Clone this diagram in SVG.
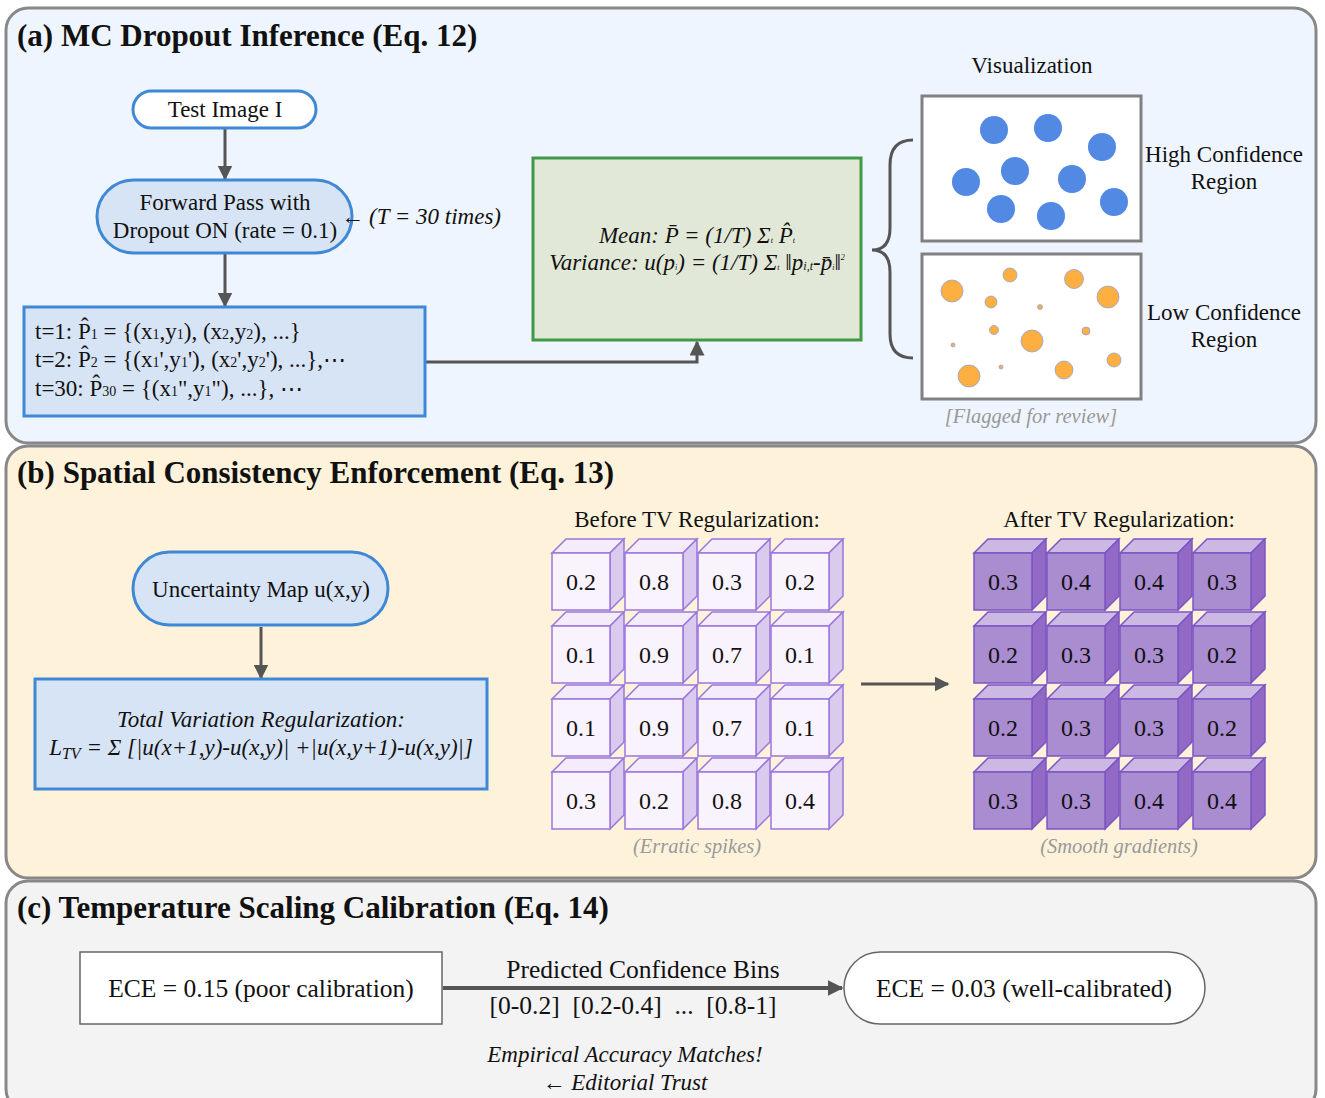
<svg xmlns="http://www.w3.org/2000/svg" width="1325" height="1098" viewBox="0 0 1325 1098">
<style>
text{font-family:"Liberation Serif","Times New Roman",serif;fill:#111}
.title{font-size:31px;font-weight:bold}
.t{font-size:23px}
.it{font-size:23px;font-style:italic}
.big{font-size:25.5px}
.note{font-size:20.5px;font-style:italic;fill:#999}
.mid{text-anchor:middle}
.node{fill:#D7E4F5;stroke:#3F88D6;stroke-width:3}
.sec{stroke:#888;stroke-width:3}
.conn{stroke:#555;stroke-width:3;fill:none}
.cv{font-size:24px;text-anchor:middle}
.blue{fill:#5189E3}
.or{fill:#FDAF41;stroke:#8FA3D8;stroke-width:0.8}
</style>
<defs>
<marker id="ah" viewBox="0 0 10 10" refX="9" refY="5" markerWidth="5" markerHeight="5" orient="auto" markerUnits="strokeWidth">
<path d="M0,0 L10,5 L0,10 z" fill="#555"/>
</marker>
<marker id="ahs" viewBox="0 0 10 10" refX="9" refY="5" markerWidth="4" markerHeight="4" orient="auto" markerUnits="strokeWidth">
<path d="M0,0 L10,5 L0,10 z" fill="#555"/>
</marker>
<g id="cubeB">
<path d="M0,0 L14,-14 L72,-14 L58,0 z" fill="#F4EBFB" stroke="#9A77DD" stroke-width="1.5"/>
<path d="M58,0 L72,-14 L72,43 L58,57 z" fill="#DACAEE" stroke="#9A77DD" stroke-width="1.5"/>
<rect x="0" y="0" width="58" height="57" fill="#F9F3FD" stroke="#9A77DD" stroke-width="1.5"/>
</g>
<g id="cubeA">
<path d="M0,0 L14,-14 L72,-14 L58,0 z" fill="#CBB8E3" stroke="#7C55C4" stroke-width="1.5"/>
<path d="M58,0 L72,-14 L72,43 L58,57 z" fill="#9369C6" stroke="#7C55C4" stroke-width="1.5"/>
<rect x="0" y="0" width="58" height="57" fill="#AA8CD0" stroke="#7C55C4" stroke-width="1.5"/>
</g>
</defs>

<!-- sections -->
<g id="sec-a">
<rect class="sec" x="6" y="8" width="1310" height="435" rx="22" fill="#EEF5FE"/>
<text class="title" x="17" y="46">(a) MC Dropout Inference (Eq. 12)</text>
</g>
<g id="sec-b">
<rect class="sec" x="6" y="446" width="1310" height="432" rx="22" fill="#FEF3DA"/>
<text class="title" x="17" y="483">(b) Spatial Consistency Enforcement (Eq. 13)</text>
</g>
<g id="sec-c">
<rect class="sec" x="6" y="881" width="1310" height="230" rx="22" fill="#F3F3F3"/>
<text class="title" x="17" y="918">(c) Temperature Scaling Calibration (Eq. 14)</text>
</g>

<!-- connectors -->
<g id="connectors">
<line class="conn" x1="225" y1="129" x2="225" y2="179" marker-end="url(#ah)"/>
<line class="conn" x1="225" y1="254" x2="225" y2="306" marker-end="url(#ah)"/>
<polyline class="conn" points="426,362 697,362 697,342" marker-end="url(#ah)"/>
<path d="M913,140 Q890,140 890,165 L890,228 Q890,250 872,250 Q890,250 890,272 L890,334 Q890,358 913,358" fill="none" stroke="#555" stroke-width="3"/>
<line class="conn" x1="261" y1="627" x2="261" y2="678" marker-end="url(#ah)"/>
<line class="conn" x1="861" y1="684" x2="948" y2="684" marker-end="url(#ah)"/>
<line x1="443" y1="988" x2="842" y2="988" stroke="#555" stroke-width="4" marker-end="url(#ahs)"/>
</g>

<!-- section a nodes -->
<g id="test-image">
<rect x="133" y="91" width="183" height="37" rx="18.5" fill="#fff" stroke="#3F88D6" stroke-width="3"/>
<text class="t mid" x="225" y="117">Test Image I</text>
</g>
<g id="forward-pass">
<rect class="node" x="97" y="180" width="255" height="73" rx="36.5"/>
<text class="t mid" x="225" y="210">Forward Pass with</text>
<text class="t mid" x="225" y="238">Dropout ON (rate = 0.1)</text>
</g>
<g id="t-note">
<text class="t" x="341" y="224">←</text>
<text class="it" x="369" y="224">(T = 30 times)</text>
</g>
<g id="samples">
<rect class="node" x="24" y="307" width="401" height="109"/>
<text class="t" x="35" y="339">t=1: P̂<tspan font-size="14">1</tspan> = {(x<tspan font-size="14">1</tspan>,y<tspan font-size="14">1</tspan>), (x<tspan font-size="14">2</tspan>,y<tspan font-size="14">2</tspan>), ...}</text>
<text class="t" x="35" y="367">t=2: P̂<tspan font-size="14">2</tspan> = {(x<tspan font-size="14">1</tspan>',y<tspan font-size="14">1</tspan>'), (x<tspan font-size="14">2</tspan>',y<tspan font-size="14">2</tspan>'), ...},⋯</text>
<text class="t" x="35" y="396">t=30: P̂<tspan font-size="14">30</tspan> = {(x<tspan font-size="14">1</tspan>",y<tspan font-size="14">1</tspan>"), ...}, ⋯</text>
</g>
<g id="stats">
<rect x="533" y="158" width="328" height="182" fill="#E2E8D7" stroke="#3F9A47" stroke-width="3"/>
<text class="it mid" x="697" y="243">Mean: P̄ = (1/T) Σ<tspan font-size="8">t</tspan> P̂<tspan font-size="8">t</tspan></text>
<text class="it mid" x="697" y="270">Variance: u(p<tspan font-size="8">i</tspan>) = (1/T) Σ<tspan font-size="8">t</tspan> ‖p<tspan font-size="12">i</tspan><tspan font-size="12">,t</tspan>-p̄<tspan font-size="8">i</tspan>‖<tspan font-size="8" dy="-10">2</tspan></text>
</g>
<g id="visualization">
<text class="t mid" x="1032" y="73">Visualization</text>
<rect x="922" y="96" width="219" height="145" fill="#fff" stroke="#808080" stroke-width="3"/>
<circle class="blue" cx="994" cy="130" r="14"/>
<circle class="blue" cx="1048" cy="128" r="14"/>
<circle class="blue" cx="1102" cy="147" r="14"/>
<circle class="blue" cx="966" cy="182" r="14"/>
<circle class="blue" cx="1015" cy="171" r="14"/>
<circle class="blue" cx="1072" cy="179" r="14"/>
<circle class="blue" cx="1001" cy="209" r="14"/>
<circle class="blue" cx="1051" cy="216" r="14"/>
<circle class="blue" cx="1114" cy="202" r="14"/>
<text class="t mid" x="1224" y="162">High Confidence</text>
<text class="t mid" x="1224" y="189">Region</text>
<rect x="922" y="254" width="219" height="145" fill="#fff" stroke="#808080" stroke-width="3"/>
<circle class="or" cx="952" cy="291" r="11"/>
<circle class="or" cx="1010" cy="275" r="7"/>
<circle class="or" cx="1074" cy="279" r="9.5"/>
<circle class="or" cx="1108" cy="297" r="11"/>
<circle class="or" cx="991" cy="302" r="6"/>
<circle class="or" cx="1040" cy="307" r="2.5"/>
<circle class="or" cx="994" cy="330" r="4.5"/>
<circle class="or" cx="1032" cy="341" r="11"/>
<circle class="or" cx="1086" cy="331" r="4"/>
<circle class="or" cx="953" cy="345" r="2"/>
<circle class="or" cx="1001" cy="367" r="2"/>
<circle class="or" cx="969" cy="376" r="11"/>
<circle class="or" cx="1064" cy="370" r="9"/>
<circle class="or" cx="1114" cy="360" r="7"/>
<text class="t mid" x="1224" y="320">Low Confidence</text>
<text class="t mid" x="1224" y="347">Region</text>
<text class="note mid" x="1031" y="423">[Flagged for review]</text>
</g>

<!-- section b nodes -->
<g id="uncertainty-map">
<rect class="node" x="133" y="552" width="255" height="73" rx="36.5"/>
<text class="t mid" x="261" y="597">Uncertainty Map u(x,y)</text>
</g>
<g id="tv-reg">
<rect class="node" x="35" y="679" width="452" height="110"/>
<text class="it mid" x="261" y="727">Total Variation Regularization:</text>
<text class="it mid" x="261" y="755">L<tspan font-size="16" dy="4">TV</tspan><tspan dy="-4"> = Σ [|u(x+1,y)-u(x,y)| +|u(x,y+1)-u(x,y)|]</tspan></text>
</g>
<g id="before-grid">
<text class="t mid" x="697" y="527">Before TV Regularization:</text>
<use href="#cubeB" x="552" y="553"/><use href="#cubeB" x="625" y="553"/><use href="#cubeB" x="698" y="553"/><use href="#cubeB" x="771" y="553"/>
<use href="#cubeB" x="552" y="626"/><use href="#cubeB" x="625" y="626"/><use href="#cubeB" x="698" y="626"/><use href="#cubeB" x="771" y="626"/>
<use href="#cubeB" x="552" y="699"/><use href="#cubeB" x="625" y="699"/><use href="#cubeB" x="698" y="699"/><use href="#cubeB" x="771" y="699"/>
<use href="#cubeB" x="552" y="772"/><use href="#cubeB" x="625" y="772"/><use href="#cubeB" x="698" y="772"/><use href="#cubeB" x="771" y="772"/>
<text class="cv" x="581" y="590">0.2</text><text class="cv" x="654" y="590">0.8</text><text class="cv" x="727" y="590">0.3</text><text class="cv" x="800" y="590">0.2</text>
<text class="cv" x="581" y="663">0.1</text><text class="cv" x="654" y="663">0.9</text><text class="cv" x="727" y="663">0.7</text><text class="cv" x="800" y="663">0.1</text>
<text class="cv" x="581" y="736">0.1</text><text class="cv" x="654" y="736">0.9</text><text class="cv" x="727" y="736">0.7</text><text class="cv" x="800" y="736">0.1</text>
<text class="cv" x="581" y="809">0.3</text><text class="cv" x="654" y="809">0.2</text><text class="cv" x="727" y="809">0.8</text><text class="cv" x="800" y="809">0.4</text>
<text class="note mid" x="697" y="853">(Erratic spikes)</text>
</g>
<g id="after-grid">
<text class="t mid" x="1119" y="527">After TV Regularization:</text>
<use href="#cubeA" x="974" y="553"/><use href="#cubeA" x="1047" y="553"/><use href="#cubeA" x="1120" y="553"/><use href="#cubeA" x="1193" y="553"/>
<use href="#cubeA" x="974" y="626"/><use href="#cubeA" x="1047" y="626"/><use href="#cubeA" x="1120" y="626"/><use href="#cubeA" x="1193" y="626"/>
<use href="#cubeA" x="974" y="699"/><use href="#cubeA" x="1047" y="699"/><use href="#cubeA" x="1120" y="699"/><use href="#cubeA" x="1193" y="699"/>
<use href="#cubeA" x="974" y="772"/><use href="#cubeA" x="1047" y="772"/><use href="#cubeA" x="1120" y="772"/><use href="#cubeA" x="1193" y="772"/>
<text class="cv" x="1003" y="590">0.3</text><text class="cv" x="1076" y="590">0.4</text><text class="cv" x="1149" y="590">0.4</text><text class="cv" x="1222" y="590">0.3</text>
<text class="cv" x="1003" y="663">0.2</text><text class="cv" x="1076" y="663">0.3</text><text class="cv" x="1149" y="663">0.3</text><text class="cv" x="1222" y="663">0.2</text>
<text class="cv" x="1003" y="736">0.2</text><text class="cv" x="1076" y="736">0.3</text><text class="cv" x="1149" y="736">0.3</text><text class="cv" x="1222" y="736">0.2</text>
<text class="cv" x="1003" y="809">0.3</text><text class="cv" x="1076" y="809">0.3</text><text class="cv" x="1149" y="809">0.4</text><text class="cv" x="1222" y="809">0.4</text>
<text class="note mid" x="1119" y="853">(Smooth gradients)</text>
</g>

<!-- section c nodes -->
<g id="ece-poor">
<rect x="80" y="952" width="362" height="72" fill="#fff" stroke="#666" stroke-width="1.5"/>
<text class="big mid" x="261" y="997">ECE = 0.15 (poor calibration)</text>
</g>
<g id="bins">
<text class="big mid" x="643" y="978">Predicted Confidence Bins</text>
<text class="big mid" x="633" y="1014" xml:space="preserve">[0-0.2]  [0.2-0.4]  ...  [0.8-1]</text>
</g>
<g id="ece-good">
<rect x="844" y="952" width="361" height="72" rx="36" fill="#fff" stroke="#666" stroke-width="1.5"/>
<text class="big mid" x="1024" y="997">ECE = 0.03 (well-calibrated)</text>
</g>
<g id="trust">
<text class="it mid" x="625" y="1062">Empirical Accuracy Matches!</text>
<text class="it mid" x="625" y="1090">← Editorial Trust</text>
</g>
</svg>
